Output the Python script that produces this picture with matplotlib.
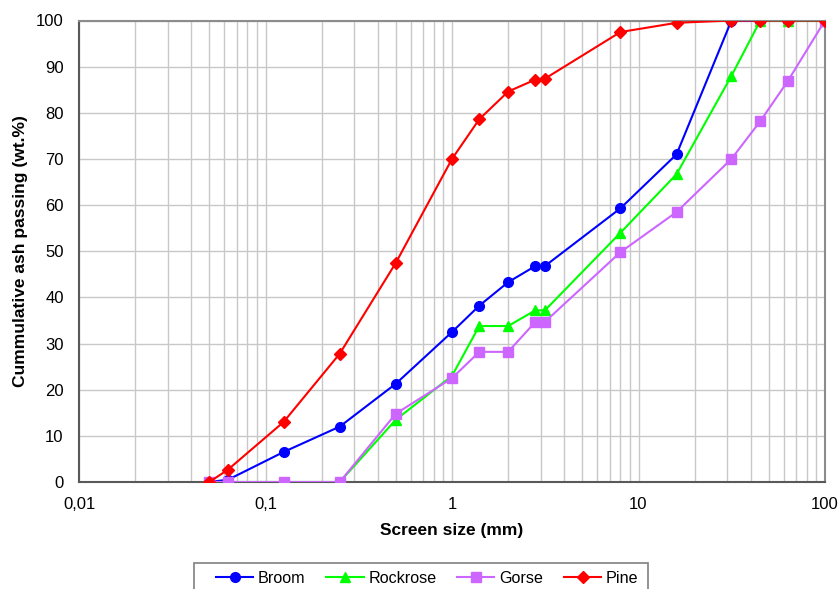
import matplotlib
matplotlib.use("Agg")
import matplotlib.pyplot as plt
from matplotlib.patches import Rectangle
from matplotlib.ticker import FixedLocator, LogLocator, NullFormatter

plt.rcParams['font.family'] = ['Liberation Sans', 'DejaVu Sans']

sizes = [0.05, 0.063, 0.125, 0.25, 0.5, 1, 1.4, 2, 2.8, 3.15, 8, 16, 31.5, 45, 63, 100]
broom = [0, 0.5, 6.5, 12, 21.3, 32.5, 38.2, 43.3, 46.8, 46.8, 59.3, 71, 100, 100, 100, 100]
rockrose = [0, 0, 0, 0, 13.5, 23, 33.8, 33.8, 37.2, 37.2, 54, 66.7, 88, 100, 100, 100]
gorse = [0, 0, 0, 0, 14.8, 22.5, 28.2, 28.2, 34.7, 34.7, 49.8, 58.5, 70, 78.2, 86.8, 100]
pine = [0, 2.7, 13, 27.8, 47.5, 70, 78.6, 84.6, 87.2, 87.4, 97.5, 99.5, 100, 100, 100, 100]

xticks = [0.01, 0.1, 1, 10, 100]
xticklabels = ['0,01', '0,1', '1', '10', '100']
yticks = list(range(0, 101, 10))

W, H = 839, 589
fig = plt.figure(figsize=(W / 100, H / 100), dpi=100)
ax = fig.add_axes([79 / W, 1 - 482 / H, (825 - 79) / W, (482 - 20.5) / H])

ax.plot(sizes, broom, color='#0000FF', marker='o', markersize=7, lw=1.5, label='Broom', zorder=3)
ax.plot(sizes, rockrose, color='#00FF00', marker='^', markersize=7, lw=1.5, label='Rockrose', zorder=4)
ax.plot(sizes, gorse, color='#CC66FF', marker='s', markersize=7, lw=1.5, label='Gorse', zorder=5)
ax.plot(sizes, pine, color='#FF0000', marker='D', markersize=6, lw=1.5, label='Pine', zorder=6)

ax.set_xscale('log')
ax.set_xlim(0.01, 100)
ax.set_ylim(0, 100)
ax.xaxis.set_major_locator(FixedLocator(xticks))
ax.set_xticklabels(xticklabels)
ax.xaxis.set_minor_locator(LogLocator(base=10, subs=range(2, 10), numticks=100))
ax.xaxis.set_minor_formatter(NullFormatter())
ax.set_yticks(yticks)

ax.grid(True, which='both', axis='x', color='#C8C8C8', lw=1)
ax.grid(True, which='major', axis='y', color='#C8C8C8', lw=1)
ax.set_axisbelow(True)
ax.tick_params(which='both', length=0, labelsize=12)
ax.tick_params(axis='x', pad=11)
ax.tick_params(axis='y', pad=11)

for s in ['left', 'bottom']:
    ax.spines[s].set_color('#595959')
    ax.spines[s].set_linewidth(1.5)
for s in ['top', 'right']:
    ax.spines[s].set_color('#8C8C8C')
    ax.spines[s].set_linewidth(1.5)

ax.set_xlabel('Screen size (mm)', fontsize=12.5, fontweight='bold', labelpad=8)
ax.set_ylabel('Cummulative ash passing (wt.%)', fontsize=12.5, fontweight='bold', labelpad=6)

leg = fig.legend(loc='upper left', bbox_to_anchor=(216 / W, 1 - 571 / H), bbox_transform=fig.transFigure,
                 ncol=4, fontsize=11.6, frameon=False, handlelength=2.3, handletextpad=0.3,
                 columnspacing=1.3, borderpad=0, borderaxespad=0)
fig.patches.append(Rectangle((194 / W, -0.02), (648 - 194) / W, 0.02 + (589 - 563) / H,
                             transform=fig.transFigure, fill=False, edgecolor='#808080', lw=1.2))

fig.savefig('out.png', dpi=100)
